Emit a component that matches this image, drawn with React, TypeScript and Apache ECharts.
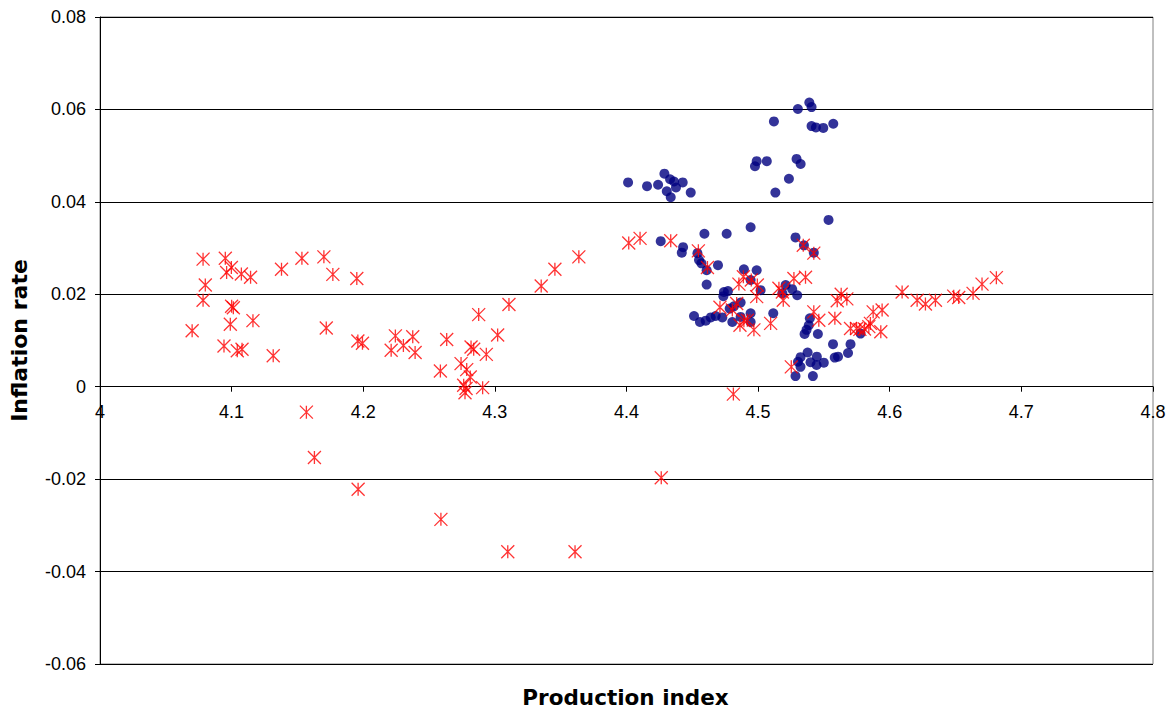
import React, { useEffect, useRef } from "react";
import * as echarts from "echarts";

// Blue circles: [production index, inflation rate]
const bluePoints: [number, number][] = [
  [4.4012, 0.0442], [4.4156, 0.0434], [4.424, 0.0437], [4.4288, 0.0461], [4.4331, 0.0449],
  [4.4361, 0.0444], [4.4427, 0.0442], [4.4376, 0.0431], [4.4306, 0.0423], [4.4336, 0.041],
  [4.4488, 0.042], [4.512, 0.0574], [4.5302, 0.0601], [4.5389, 0.0615], [4.5406, 0.0605],
  [4.5406, 0.0564], [4.5439, 0.0561], [4.5495, 0.056], [4.5571, 0.0569], [4.4989, 0.0488],
  [4.4976, 0.0477], [4.5066, 0.0488], [4.5292, 0.0493], [4.5323, 0.0482], [4.5234, 0.045],
  [4.5131, 0.042], [4.5535, 0.0361], [4.4943, 0.0345], [4.4761, 0.0331], [4.4592, 0.0331],
  [4.426, 0.0315], [4.443, 0.0302], [4.442, 0.029], [4.4539, 0.0289], [4.4551, 0.0274],
  [4.4569, 0.0267], [4.4609, 0.0252], [4.4695, 0.0263], [4.4609, 0.0221], [4.5284, 0.0323],
  [4.5348, 0.0306], [4.5423, 0.029], [4.4892, 0.0254], [4.4989, 0.0252], [4.4943, 0.0231],
  [4.474, 0.0205], [4.4771, 0.0207], [4.4736, 0.0196], [4.5019, 0.0209], [4.5209, 0.022],
  [4.5259, 0.0211], [4.5297, 0.0198], [4.5184, 0.0202], [4.4513, 0.0153], [4.4558, 0.014],
  [4.4602, 0.0143], [4.464, 0.015], [4.4677, 0.0153], [4.4728, 0.015], [4.4784, 0.0169],
  [4.4816, 0.0174], [4.4867, 0.0182], [4.4804, 0.014], [4.4867, 0.0151], [4.4943, 0.0159],
  [4.4943, 0.014], [4.5115, 0.0159], [4.5393, 0.0148], [4.5385, 0.0133], [4.5368, 0.0123],
  [4.5353, 0.0114], [4.5454, 0.0114], [4.5569, 0.0092], [4.5702, 0.0092], [4.5683, 0.0073],
  [4.5582, 0.0063], [4.5607, 0.0065], [4.5778, 0.0115], [4.5376, 0.0074], [4.5322, 0.0064],
  [4.5303, 0.0054], [4.5322, 0.0043], [4.5284, 0.0023], [4.5416, 0.0023], [4.5398, 0.0053],
  [4.5446, 0.0065], [4.5444, 0.0047], [4.5499, 0.0052],
];

// Red asterisks: [production index, inflation rate]
const redPoints: [number, number][] = [
  [4.07, 0.0121], [4.0783, 0.0276], [4.08, 0.022], [4.0783, 0.0187], [4.0952, 0.0278],
  [4.0998, 0.0258], [4.0962, 0.0247], [4.1074, 0.0244], [4.1144, 0.0237], [4.1, 0.0174],
  [4.1013, 0.0171], [4.099, 0.0135], [4.0942, 0.0088], [4.1043, 0.0078], [4.1079, 0.0081],
  [4.1162, 0.0143], [4.1316, 0.0067], [4.1379, 0.0254], [4.1534, 0.0278], [4.1701, 0.0281],
  [4.1769, 0.0243], [4.1719, 0.0127], [4.1951, 0.0234], [4.1959, 0.0099], [4.1994, 0.0094],
  [4.2244, 0.011], [4.2212, 0.0079], [4.2305, 0.0089], [4.2376, 0.0108], [4.2394, 0.0074],
  [4.2586, 0.0034], [4.2634, 0.0102], [4.2743, 0.005], [4.2786, 0.0037], [4.2813, 0.0021],
  [4.2763, 0.0003], [4.2781, -0.0004], [4.2773, -0.0013], [4.2907, -0.0002], [4.2819, 0.0086],
  [4.2839, 0.0081], [4.2935, 0.007], [4.2877, 0.0156], [4.3021, 0.0112], [4.3107, 0.0178],
  [4.3352, 0.0218], [4.3456, 0.0254], [4.3638, 0.0281], [4.4017, 0.0311], [4.4103, 0.0321],
  [4.4336, 0.0316], [4.1568, -0.0055], [4.1629, -0.0153], [4.1961, -0.0222], [4.259, -0.0287],
  [4.3098, -0.0357], [4.3609, -0.0357], [4.4264, -0.0197], [4.4812, -0.0016], [4.4546, 0.0294],
  [4.4615, 0.0258], [4.4888, 0.0238], [4.4854, 0.0222], [4.4948, 0.0231], [4.4994, 0.022],
  [4.4989, 0.0195], [4.5158, 0.0213], [4.5184, 0.0205], [4.5191, 0.0187], [4.5272, 0.0234],
  [4.536, 0.0237], [4.5343, 0.0306], [4.5423, 0.0289], [4.471, 0.0172], [4.4804, 0.0166],
  [4.4837, 0.018], [4.4862, 0.0133], [4.4892, 0.0143], [4.4918, 0.0144], [4.4968, 0.0123],
  [4.5095, 0.0137], [4.5423, 0.0162], [4.5461, 0.0144], [4.5583, 0.0148], [4.5631, 0.02],
  [4.5601, 0.0186], [4.5674, 0.019], [4.5702, 0.0126], [4.5748, 0.0126], [4.5773, 0.0124],
  [4.5808, 0.0125], [4.5841, 0.013], [4.5853, 0.0137], [4.5874, 0.0162], [4.5942, 0.0166],
  [4.5932, 0.0119], [4.5252, 0.0043], [4.6094, 0.0205], [4.6208, 0.0187], [4.6271, 0.0179],
  [4.6347, 0.0187], [4.6486, 0.0196], [4.6524, 0.0193], [4.6633, 0.0202], [4.6701, 0.0222],
  [4.681, 0.0236],
];

const xMin = 4;
const xMax = 4.8;
const xStep = 0.1;
const yMin = -0.06;
const yMax = 0.08;
const yStep = 0.02;

const xTitle = "Production index";
const yTitle = "Inflation rate";

const tickFont = "'Liberation Sans', Arial, sans-serif";
const titleFont = "'DejaVu Sans', Verdana, sans-serif";

const W = 1176;
const H = 710;
const gridLeft = 98;
const gridRight = 23;
const gridTop = 17;
const gridBottom = 46;

export default function App() {
  const ref = useRef<HTMLDivElement>(null);
  useEffect(() => {
    if (!ref.current) return;
    const chart = echarts.init(ref.current, undefined, { renderer: "svg" });
    chart.setOption({
      animation: false,
      backgroundColor: "#ffffff",
      grid: {
        left: gridLeft,
        right: gridRight,
        top: gridTop,
        bottom: gridBottom,
        show: true,
        borderColor: "#808080",
        borderWidth: 1,
      },
      xAxis: {
        type: "value",
        min: xMin,
        max: xMax,
        interval: xStep,
        offset: 0,
        axisLine: { onZero: false, lineStyle: { color: "#000", width: 1 } },
        axisTick: { show: true, inside: false, length: 5, lineStyle: { color: "#000" } },
        axisLabel: {
          show: true,
          margin: 16,
          color: "#000",
          fontSize: 18,
          fontFamily: tickFont,
          showMinLabel: true,
          showMaxLabel: true,
          formatter: (v: number) => String(parseFloat(v.toFixed(1))),
        },
        splitLine: { show: false },
      },
      yAxis: {
        type: "value",
        min: yMin,
        max: yMax,
        interval: yStep,
        name: yTitle,
        nameLocation: "middle",
        nameGap: 70,
        nameRotate: 90,
        nameTextStyle: {
          fontFamily: titleFont,
          fontWeight: "bold",
          fontSize: 22,
          color: "#000",
        },
        axisLine: { show: true, onZero: false, lineStyle: { color: "#000", width: 1 } },
        axisTick: { show: true, inside: false, length: 5, lineStyle: { color: "#000" } },
        axisLabel: {
          margin: 14,
          color: "#000",
          fontSize: 18,
          fontFamily: tickFont,
          formatter: (v: number) => (Math.abs(v) < 1e-9 ? "0" : v.toFixed(2)),
        },
        splitLine: { show: true, lineStyle: { color: "#000", width: 1 } },
      },
      graphic: [
        {
          type: "text",
          x: gridLeft + (W - gridLeft - gridRight) / 2,
          y: 697,
          style: {
            text: xTitle,
            fontFamily: titleFont,
            fontWeight: "bold",
            fontSize: 21.5,
            fill: "#000",
            textAlign: "center",
            textVerticalAlign: "middle",
          },
        },
      ],
      series: [
        {
          type: "scatter",
          data: bluePoints,
          symbol: "circle",
          symbolSize: 10,
          itemStyle: { color: "#000080" },
        },
        {
          type: "scatter",
          data: redPoints,
          symbol: "path://M5,0L5,10M0,0L10,10M0,10L10,0",
          symbolSize: 13,
          itemStyle: { color: "none", borderColor: "#ff0000", borderWidth: 1.3 },
        },
      ],
    });
    // Place the x axis on the y = 0 line (as in the reference) using the y scale.
    const zeroPx = chart.convertToPixel({ yAxisIndex: 0 }, 0) as number;
    const bottomPx = H - gridBottom;
    chart.setOption({ xAxis: { offset: zeroPx - bottomPx } });
    return () => chart.dispose();
  }, []);
  return (
    <div
      ref={ref}
      style={{ position: "absolute", left: 0, top: 0, width: W, height: H }}
    />
  );
}
